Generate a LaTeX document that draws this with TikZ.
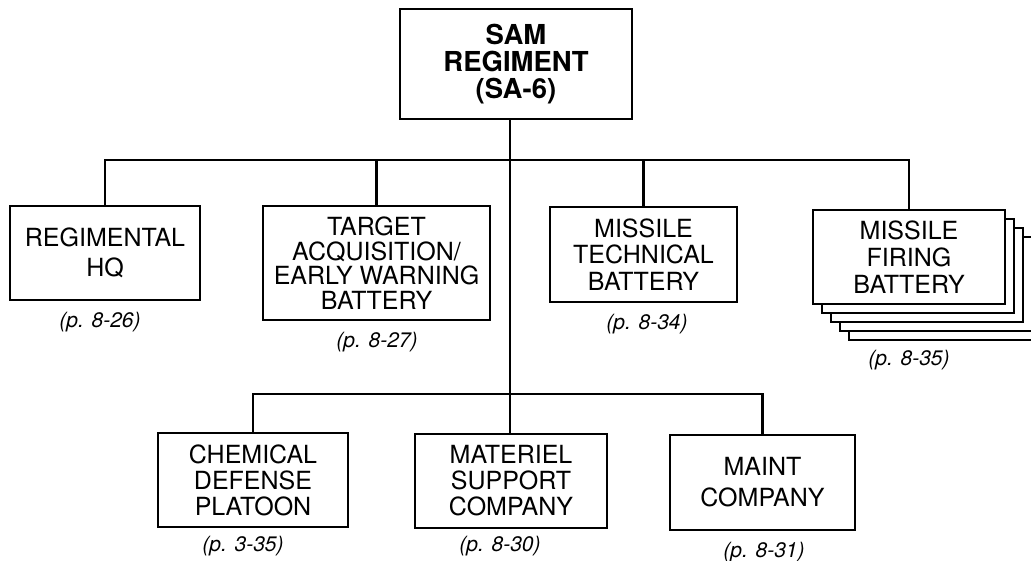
\documentclass[tikz,border=0pt]{standalone}
\usepackage{fontspec}
\setmainfont{TeX Gyre Heros}
\begin{document}
\begin{tikzpicture}[x=1pt,y=-1pt,
  box/.style={draw, line width=2.2pt, fill=white, inner sep=0pt, align=center},
  body/.style={font=\fontsize{25}{#1}\selectfont},
  ref/.style={font=\fontsize{21}{24}\selectfont\itshape, inner sep=0pt},
  conn/.style={line width=2.2pt}]
\useasboundingbox (0,0) rectangle (1031,561);
\clip (0,0) rectangle (1031,561);
% top
\node[box, minimum width=232, minimum height=110, font=\fontsize{27.5}{27}\selectfont\bfseries] (top) at (516,64) {SAM\\REGIMENT\\(SA-6)};
% level 1
\node[box, body=30, minimum width=190, minimum height=94] (hq) at (105,253) {REGIMENTAL\\HQ};
\node[box, body=24.5, minimum width=227, minimum height=114] (ta) at (376.5,263) {TARGET\\ACQUISITION/\\EARLY WARNING\\BATTERY};
\node[box, body=26.7, minimum width=187, minimum height=95] (mt) at (643.5,254.5) {MISSILE\\TECHNICAL\\BATTERY};
\foreach \k in {4,3,2,1}
  \draw[line width=2.2pt, fill=white] ({813+9*\k},{210+9*\k}) rectangle ++(192,94);
\node[box, body=26.7, minimum width=192, minimum height=94] (mf) at (909,257) {MISSILE\\FIRING\\BATTERY};
% level 2
\node[box, body=26, minimum width=190, minimum height=94] (cd) at (253,480) {CHEMICAL\\DEFENSE\\PLATOON};
\node[box, body=26, minimum width=192, minimum height=94] (ms) at (511,481) {MATERIEL\\SUPPORT\\COMPANY};
\node[box, body=31, minimum width=185, minimum height=95] (mc) at (762.5,482.5) {MAINT\\COMPANY};
% page references
\node[ref] (rhq) at (100,322) {(p. 8-26)};
\node[ref] (rta) at (377,342) {(p. 8-27)};
\node[ref] (rmt) at (647,324) {(p. 8-34)};
\node[ref] (rmf) at (909,360) {(p. 8-35)};
\node[ref] (rcd) at (243,546) {(p. 3-35)};
\node[ref] (rms) at (500,546) {(p. 8-30)};
\node[ref] (rmc) at (764,552) {(p. 8-31)};
% connectors
\coordinate (b1) at (510,160);
\coordinate (b2) at (510,394);
\draw[conn] (top.south -| b1) -- (ms.north -| b1);
\draw[conn] (hq.north) -- (hq.north |- b1) -- (mf.north |- b1) -- (mf.north);
\draw[conn] (ta.north) -- (ta.north |- b1);
\draw[conn] (mt.north) -- (mt.north |- b1);
\draw[conn] (cd.north) -- (cd.north |- b2) -- (mc.north |- b2) -- (mc.north);
\end{tikzpicture}
\end{document}
